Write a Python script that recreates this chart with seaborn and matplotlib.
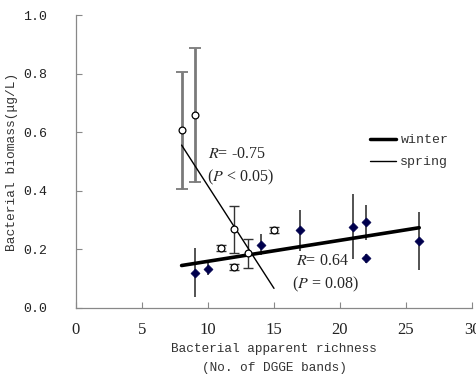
import matplotlib
matplotlib.use("Agg")
import matplotlib.pyplot as plt
import seaborn as sns
import pandas as pd
from matplotlib.lines import Line2D

# ---- data ----
winter_x = [9, 10, 14, 17, 21, 22, 22, 26]
winter_y = [0.121, 0.134, 0.216, 0.265, 0.278, 0.292, 0.170, 0.229]
winter_err = [0.085, 0.02, 0.035, 0.07, 0.11, 0.06, 0.015, 0.10]

spring_x = [8, 9, 11, 12, 12, 13, 15]
spring_y = [0.607, 0.659, 0.206, 0.268, 0.141, 0.187, 0.267]
spring_err = [0.20, 0.23, 0.01, 0.08, 0.01, 0.05, 0.01]

winter_fit_x = [8, 26]
winter_fit_y = [0.145, 0.274]
spring_fit_x = [8, 15]
spring_fit_y = [0.556, 0.067]

x_ticks = [0, 5, 10, 15, 20, 25, 30]
y_ticks = [0.0, 0.2, 0.4, 0.6, 0.8, 1.0]

sns.set_theme(style="ticks")
plt.rcParams['font.family'] = ['Liberation Mono', 'DejaVu Sans Mono']
plt.rcParams['mathtext.fontset'] = 'stix'

fig = plt.figure(figsize=(4.76, 3.81), dpi=100)
ax = fig.add_axes([76/476, 1-308/381, (472-76)/476, (308-15)/381])

wdf = pd.DataFrame({"x": winter_x, "y": winter_y})
sdf = pd.DataFrame({"x": spring_x, "y": spring_y})

# error bars
ax.errorbar(winter_x, winter_y, yerr=winter_err, fmt='none', ecolor='#444444',
            elinewidth=1.3, capsize=0, zorder=2)
ax.errorbar(spring_x[:2], spring_y[:2], yerr=spring_err[:2], fmt='none', ecolor='#7a7a7a',
            elinewidth=2.0, capsize=4, capthick=1.3, zorder=2)
ax.errorbar(spring_x[2:], spring_y[2:], yerr=spring_err[2:], fmt='none', ecolor='#333333',
            elinewidth=1.0, capsize=3.5, capthick=1.0, zorder=2)

# fit lines
sns.lineplot(x=winter_fit_x, y=winter_fit_y, ax=ax, color='black', linewidth=2.6, zorder=3)
sns.lineplot(x=spring_fit_x, y=spring_fit_y, ax=ax, color='black', linewidth=1.0, zorder=3)

# points
sns.scatterplot(data=wdf, x="x", y="y", ax=ax, marker='D', s=22, color='#00004d',
                edgecolor='#00004d', zorder=4)
sns.scatterplot(data=sdf, x="x", y="y", ax=ax, marker='o', s=24, facecolor='white',
                edgecolor='black', linewidth=0.9, zorder=4)

ax.set_xlim(0, 30)
ax.set_ylim(0, 1.0)
ax.set_xticks(x_ticks)
ax.set_yticks(y_ticks)
ax.set_xticklabels([str(t) for t in x_ticks], fontsize=12, family=['Liberation Serif'],
                   color='#222222')
ax.set_yticklabels([f"{t:.1f}" for t in y_ticks], fontsize=9.5, color='#222222')
ax.tick_params(direction='in', length=4, width=0.8, color='#888888')
ax.tick_params(axis='x', pad=10)
ax.tick_params(axis='y', pad=21)
for side in ['top', 'right']:
    ax.spines[side].set_visible(False)
for side in ['left', 'bottom']:
    ax.spines[side].set_color('#888888')
    ax.spines[side].set_linewidth(0.9)

ax.set_xlabel("Bacterial apparent richness\n(No. of DGGE bands)", fontsize=9.2, linespacing=1.75,
              color='#333333', labelpad=4)
ax.set_ylabel("Bacterial biomass(μg/L)", fontsize=9.3, color='#333333')
ax.yaxis.set_label_coords((18 - 76) / 396, 0.5)

ax.text(10.0, 0.525, r"$R$= -0.75", fontsize=11.5, family='Liberation Serif', va='center')
ax.text(9.9, 0.447, r"($P$ < 0.05)", fontsize=11.5, family='Liberation Serif', va='center')
ax.text(16.7, 0.160, r"$R$= 0.64", fontsize=11.5, family='Liberation Serif', va='center')
ax.text(16.4, 0.082, r"($P$ = 0.08)", fontsize=11.5, family='Liberation Serif', va='center')

handles = [Line2D([], [], color='black', linewidth=2.5), Line2D([], [], color='black', linewidth=1.0)]
leg = ax.legend(handles, ['winter', 'spring'], loc='upper left',
                bbox_to_anchor=(370/476, 1-134/381), bbox_transform=fig.transFigure,
                frameon=False, fontsize=9.5, handlelength=2.0, handletextpad=0.3,
                labelspacing=0.75, borderpad=0, borderaxespad=0)
for t in leg.get_texts():
    t.set_color('#333333')

fig.savefig("out.png", dpi=100)
